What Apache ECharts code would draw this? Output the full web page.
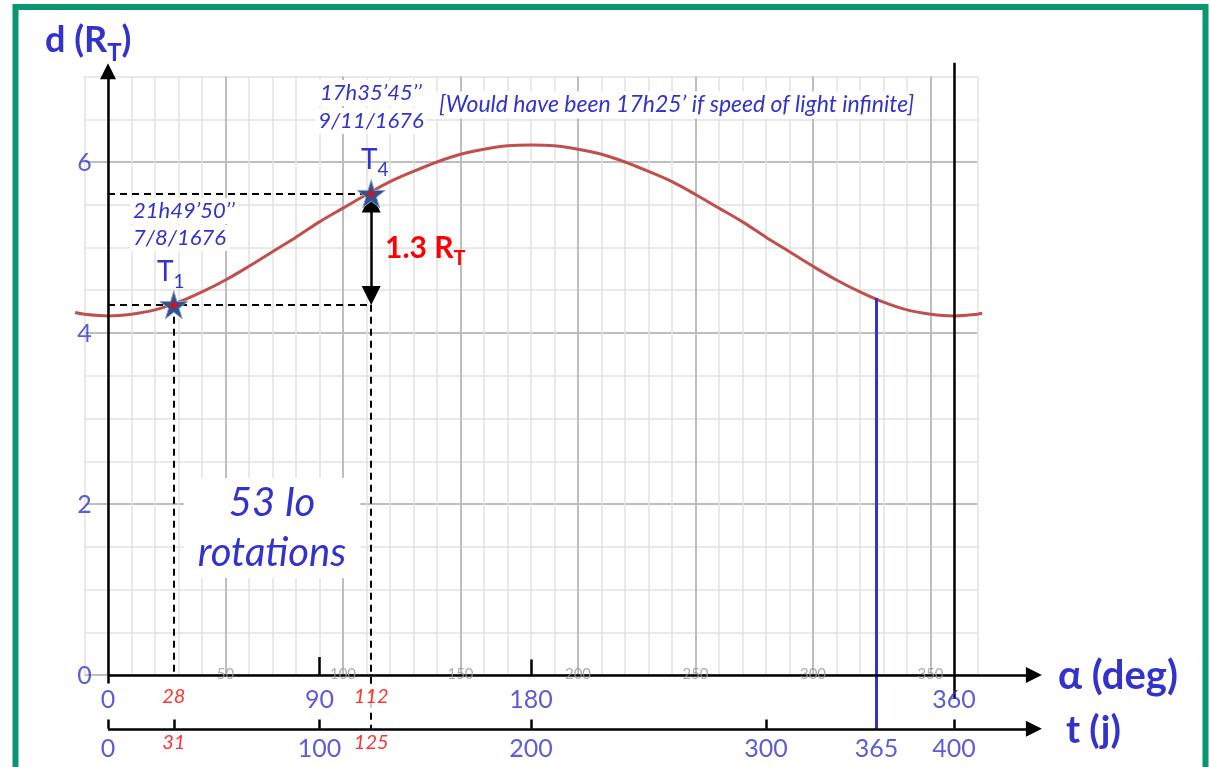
<!DOCTYPE html>
<html>
<head>
<meta charset="utf-8">
<script src="https://cdn.jsdelivr.net/npm/echarts@6/dist/echarts.min.js"></script>
<style>
  html, body { margin: 0; padding: 0; background: #fff; }
  #chart { width: 1210px; height: 767px; }
</style>
</head>
<body>
<div id="chart"></div>
<script>
// Earth-Jupiter distance d (R_T), against alpha (deg)
const alpha = [-14, -10, 0, 10, 20, 30, 40, 50, 60, 70, 80, 90, 100, 110, 120, 130, 140, 150, 160, 170, 180,
  190, 200, 210, 220, 230, 240, 250, 260, 270, 280, 290, 300, 310, 320, 330, 340, 350, 360, 370, 372];
const dist = [4.24, 4.22, 4.20, 4.22, 4.27, 4.36, 4.48, 4.62, 4.78, 4.95, 5.12, 5.30, 5.46, 5.62, 5.77, 5.89, 6.00, 6.09, 6.15, 6.19, 6.20,
  6.19, 6.15, 6.09, 6.00, 5.89, 5.77, 5.62, 5.46, 5.30, 5.12, 4.95, 4.78, 4.62, 4.48, 4.36, 4.27, 4.22, 4.20, 4.22, 4.23];

// the two eclipse times T1 and T4
const tPoints = [[28, 4.33], [112, 5.63]];

// tick labels
const alphaMain = [0, 90, 180, 360];
const alphaMarked = [28, 112];
const gridTicks = [50, 100, 150, 200, 250, 300, 350];
const yTicks = [0, 2, 4, 6];
// t (days) axis is hand drawn: label and where it sits on the alpha scale
const tMain = ['0', '100', '200', '300', '365', '400'];
const tMainAt = [0, 90, 180, 280, 327, 360];
const tMarked = ['31', '125'];
const tMarkedAt = [28, 112];
const yearAt = 327;      // 365 j
const yearDist = 4.41;

const T_LEVEL = -0.63;   // t axis drawn below the alpha axis

const BLUE = '#3333cc';
const FONT = 'Lato, "Open Sans", sans-serif';

// pixel mapping used to line the helper grids up with the main one
const X0 = 108, KX = 2.35, Y0 = 675, KY = 85.5;
const box = (x1, x2, y1, y2) => ({
  left: X0 + KX * x1, width: KX * (x2 - x1),
  top: Y0 - KY * y2, height: KY * (y2 - y1),
  containLabel: false, outerBoundsMode: 'none'
});

const hidden = { axisLine: { show: false }, axisTick: { show: false }, axisLabel: { show: false } };
const minorLine = { show: true, lineStyle: { color: '#e2e2e2', width: 1.5 } };
const majorLine = { show: true, lineStyle: { color: '#b0b0b0', width: 1.5 } };

const seg = (a, b, style) => ({ coords: [a, b], lineStyle: style });
const black = { color: '#000', width: 2.5, opacity: 1 };

const chart = echarts.init(document.getElementById('chart'));

const solidLines = [
  seg([yearAt, yearDist], [yearAt, T_LEVEL], { color: BLUE, width: 3, opacity: 1 }),
  seg([360, 7.16], [360, -0.28], black),
  seg([90, 0], [90, 0.21], black),
  seg([180, 0], [180, 0.18], black),
  seg([0, 0], [0, -0.1], black),
  ...tMainAt.filter(a => a !== yearAt).map(a => seg([a, T_LEVEL], [a, T_LEVEL + 0.11], black)),
  seg([28, T_LEVEL], [28, T_LEVEL + 0.11], black)
];

const dashStyle = { color: '#000', width: 2, type: [7, 5], opacity: 1 };
const dashedLines = [
  seg([0, tPoints[1][1]], [tPoints[1][0], tPoints[1][1]], dashStyle),
  seg([0, tPoints[0][1]], [tPoints[1][0], tPoints[0][1]], dashStyle),
  seg(tPoints[0], [tPoints[0][0], 0], dashStyle),
  seg([tPoints[1][0], tPoints[0][1]], [tPoints[1][0], T_LEVEL], dashStyle)
];

const labelSeries = (data, label) => ({
  type: 'scatter', xAxisIndex: 0, yAxisIndex: 0, symbolSize: 1, silent: true, z: 6,
  itemStyle: { color: 'transparent' },
  data,
  label: Object.assign({ show: true, position: 'inside', fontFamily: FONT }, label)
});

const sub = (main, s, x, y, size, subSize, color, weight, extra) => ({
  type: 'text', z: 100, x, y,
  style: {
    text: `{a|${main}}{s|${s}}` + (extra ? `{a|${extra}}` : ''),
    fill: color, align: 'left', verticalAlign: 'middle',
    rich: {
      a: { fontSize: size, fontWeight: weight, fontFamily: FONT, fill: color, lineHeight: size * 1.4 },
      s: { fontSize: subSize, fontWeight: weight, fontFamily: FONT, fill: color, lineHeight: subSize, verticalAlign: 'bottom' }
    }
  }
});

const note = (text, x, y, align, size, extra) => ({
  type: 'text', z: 100, x, y,
  style: Object.assign({
    text, fill: BLUE, align, verticalAlign: 'middle',
    font: `italic ${size}px ${FONT}`, backgroundColor: '#fff', padding: [2, 3]
  }, extra || {})
});

chart.setOption({
  animation: false,
  grid: [box(-14, 400, -1, 7.2), box(-10, 370, 0, 7), box(0, 350, 0, 7), box(-10, 370, 0, 6)],
  xAxis: [
    { type: 'value', gridIndex: 0, min: -14, max: 400, show: false },
    Object.assign({ type: 'value', gridIndex: 1, min: -10, max: 370, interval: 10, splitLine: minorLine }, hidden),
    Object.assign({ type: 'value', gridIndex: 2, min: 0, max: 350, interval: 50, splitLine: majorLine }, hidden),
    Object.assign({ type: 'value', gridIndex: 3, min: -10, max: 370, splitLine: { show: false } }, hidden)
  ],
  yAxis: [
    { type: 'value', gridIndex: 0, min: -1, max: 7.2, show: false },
    Object.assign({ type: 'value', gridIndex: 1, min: 0, max: 7, interval: 0.5, splitLine: minorLine }, hidden),
    Object.assign({ type: 'value', gridIndex: 2, min: 0, max: 7, splitLine: { show: false } }, hidden),
    Object.assign({ type: 'value', gridIndex: 3, min: 0, max: 6, interval: 2, splitLine: majorLine }, hidden)
  ],
  series: [
    {
      type: 'line', xAxisIndex: 0, yAxisIndex: 0, z: 3,
      data: alpha.map((a, i) => [a, dist[i]]),
      smooth: 0.35, showSymbol: false,
      lineStyle: { color: '#c0504d', width: 3 }
    },
    {
      type: 'lines', coordinateSystem: 'cartesian2d', xAxisIndex: 0, yAxisIndex: 0, z: 4,
      lineStyle: { opacity: 1 },
      data: solidLines
    },
    {
      type: 'lines', coordinateSystem: 'cartesian2d', xAxisIndex: 0, yAxisIndex: 0, z: 4,
      lineStyle: { opacity: 1 },
      data: dashedLines
    },
    {
      type: 'lines', coordinateSystem: 'cartesian2d', xAxisIndex: 0, yAxisIndex: 0, z: 5,
      symbol: ['none', 'triangle'], symbolSize: 16,
      lineStyle: black,
      data: [
        { coords: [[0, 0], [394, 0]] },
        { coords: [[0, 0], [0, 7.06]] },
        { coords: [[0, T_LEVEL], [394, T_LEVEL]] }
      ]
    },
    {
      type: 'lines', coordinateSystem: 'cartesian2d', xAxisIndex: 0, yAxisIndex: 0, z: 5,
      symbol: ['triangle', 'triangle'], symbolSize: 19,
      lineStyle: black,
      data: [{ coords: [[tPoints[1][0], tPoints[0][1] + 0.11], [tPoints[1][0], tPoints[1][1] - 0.11]] }]
    },
    {
      type: 'scatter', xAxisIndex: 0, yAxisIndex: 0, z: 7,
      symbol: 'path://M50,0 L61,35 L98,35 L68,57 L79,91 L50,70 L21,91 L32,57 L2,35 L39,35 Z',
      symbolSize: 28,
      itemStyle: { color: '#2f5291', borderColor: '#8fa3c6', borderWidth: 1, opacity: 1 },
      data: tPoints
    },
    {
      type: 'scatter', xAxisIndex: 0, yAxisIndex: 0, z: 8,
      symbol: 'path://M4,0h2v4h4v2h-4v4h-2v-4h-4v-2h4z', symbolSize: 9,
      itemStyle: { color: '#ff0000', opacity: 1 },
      data: tPoints
    },
    labelSeries(gridTicks.map(a => [a, 0]), {
      formatter: p => p.value[0], color: '#9a9a9a', fontSize: 15, offset: [0, -1]
    }),
    labelSeries(alphaMain.map(a => [a, 0]), {
      formatter: p => p.value[0], color: BLUE, fontSize: 25, offset: [0, 25]
    }),
    labelSeries(alphaMarked.map(a => [a, 0]), {
      formatter: p => p.value[0], color: '#ff0000', fontSize: 20, fontStyle: 'italic',
      offset: [0, 22], backgroundColor: '#fff', padding: [1, 2]
    }),
    labelSeries(tMainAt.map((a, i) => ({ value: [a, T_LEVEL], name: tMain[i] })), {
      formatter: '{b}', color: BLUE, fontSize: 25, offset: [0, 20]
    }),
    labelSeries(tMarkedAt.map((a, i) => ({ value: [a, T_LEVEL], name: tMarked[i] })), {
      formatter: '{b}', color: '#ff0000', fontSize: 20, fontStyle: 'italic', offset: [0, 14]
    }),
    labelSeries(yTicks.map(v => [-10, v]), {
      formatter: p => p.value[1], color: BLUE, fontSize: 25, offset: [0, 1]
    })
  ],
  graphic: [
    { type: 'rect', z: 100, shape: { x: 15.5, y: 7, width: 1190, height: 800 },
      style: { fill: 'none', stroke: '#0b9672', lineWidth: 6 } },
    sub('d (R', 'T', 45, 40, 36, 24, BLUE, 'bold', ')'),
    { type: 'text', z: 100, x: 1058, y: 676,
      style: { text: 'α (deg)', fill: BLUE, font: `bold 40px ${FONT}`, align: 'left', verticalAlign: 'middle' } },
    { type: 'text', z: 100, x: 1066, y: 731,
      style: { text: 't (j)', fill: BLUE, font: `bold 38px ${FONT}`, align: 'left', verticalAlign: 'middle' } },
    note('17h35’45’’', 371, 93, 'center', 22),
    note('9/11/1676', 371, 121, 'center', 22),
    note('[Would have been 17h25’ if speed of light infinite]', 436, 105, 'left', 23),
    note('21h49’50’’', 130, 211, 'left', 22),
    note('7/8/1676', 130, 238, 'left', 22),
    sub('T', '4', 361, 160, 28, 19, BLUE, 'normal'),
    sub('T', '1', 157, 272, 28, 19, BLUE, 'normal'),
    sub('1.3 R', 'T', 385, 248, 30, 20, '#ff0000', 'bold'),
    note('53 Io\nrotations', 272, 528, 'center', 40, { lineHeight: 50, padding: [0, 14] })
  ]
});
</script>
</body>
</html>
